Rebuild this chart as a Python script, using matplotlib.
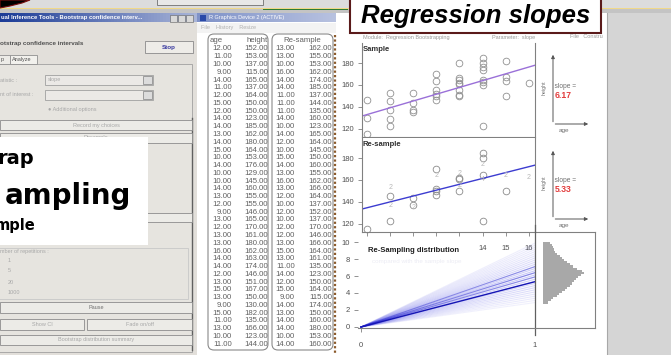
import numpy as np
import matplotlib
matplotlib.use('Agg')
import matplotlib.pyplot as plt
from matplotlib.patches import Rectangle, FancyBboxPatch, Polygon
from matplotlib.colors import LinearSegmentedColormap

plt.rcParams['font.family'] = ['Liberation Sans', 'DejaVu Sans']

W, H = 671, 355

### data
sample_age = [12, 11, 10, 9, 14, 11, 12, 15, 12, 14, 14, 13, 14, 15, 10, 14, 10, 10, 14, 13,
              12, 9, 13, 12, 13, 13, 16, 14, 14, 12, 13, 15, 13, 9, 15, 11, 13, 10, 11]
sample_height = [152, 153, 137, 115, 165, 137, 164, 150, 150, 123, 185, 162, 180, 164, 153, 176, 129, 145, 160, 155,
                 155, 146, 165, 170, 161, 180, 162, 163, 174, 146, 151, 167, 150, 130, 182, 135, 166, 123, 144]
resample_age = [13, 13, 10, 16, 14, 14, 11, 11, 11, 14, 10, 14, 12, 10, 15, 14, 13, 16, 13, 12,
                10, 12, 10, 12, 12, 13, 15, 13, 11, 14, 12, 15, 9, 14, 13, 14, 14, 10, 14]
resample_height = [162, 155, 153, 162, 174, 185, 137, 144, 135, 160, 123, 165, 164, 145, 150, 160, 155, 162, 166, 164,
                   137, 152, 137, 170, 146, 166, 164, 161, 135, 123, 150, 164, 115, 174, 150, 160, 180, 153, 160]

sample_slope = 6.17
sample_intercept = 77.6
resample_slope = 5.33
resample_intercept = 86.8

age_ticks = [9, 10, 11, 12, 13, 14, 15, 16]
# labels 9..13 sit under the white caption box, only 14-16 show
age_ticklabels = ['', '', '', '', '', '14', '15', '16']
height_ticks = [120, 140, 160, 180]
dist_ticks = [0, 2, 4, 6, 8, 10]

# bootstrap slope histogram (bin centres, bar lengths)
slope_bins = [2.875, 3.125, 3.375, 3.625, 3.875, 4.125, 4.375, 4.625, 4.875, 5.125,
              5.375, 5.625, 5.875, 6.125, 6.375, 6.625, 6.875, 7.125, 7.375, 7.625,
              7.875, 8.125, 8.375, 8.625, 8.875, 9.125, 9.375, 9.625, 9.875]
slope_counts = [5, 8, 10, 14, 16, 19, 22, 24, 27, 29,
                31, 33, 35, 38, 41, 39, 34, 30, 27, 24,
                21, 19, 17, 14, 12, 11, 10, 9, 7]
recent_slopes = [7.1, 6.4, 5.9]


def frac(x0, y0, x1, y1):
  """ pixel box (top-left origin) -> figure fraction """
  return [x0 / W, 1 - y1 / H, (x1 - x0) / W, (y1 - y0) / H]


fig = plt.figure(figsize=(W / 100, H / 100), dpi=100)
ui = fig.add_axes([0, 0, 1, 1])
ui.axis('off')


def rect(x, y, w, h, fc, ec='none', lw=0.6, z=1):
  ui.add_patch(Rectangle((x, y), w, h, facecolor=fc, edgecolor=ec, linewidth=lw, zorder=z))


def label(x, y, s, size=4, color='#a8a8a8', **kw):
  ui.text(x, y, s, fontsize=size, color=color, va='center', zorder=3, **kw)


def button(x, y, w, h, s, color='#a8a8a8'):
  rect(x, y, w, h, '#ecebe7', ec='#8c8c8c', lw=0.6, z=2)
  label(x + w / 2, y + h / 2, s, color=color, ha='center')


def titlebar(x0, x1, c0, c1):
  cmap = LinearSegmentedColormap.from_list('tb', [c0, c1])
  ui.imshow(np.linspace(0, 1, 64).reshape(1, -1), cmap=cmap, extent=(x0, x1, 22.5, 13.5),
            aspect='auto', zorder=2)


### background strip on top
rect(0, 0, W, 8, '#dcdcdc')
rect(157, -2, 106, 7, '#e8e8e8', ec='#707070', lw=0.6)
rect(0, 7.5, W, 1.6, '#f0d888')
rect(0, 9, W, 4.5, '#c4c4c4')
rect(263, 9, 85, 1.2, '#2e7d32')
ui.add_patch(Polygon([(0, 0), (30, 0), (22, 3), (10, 6), (0, 8)], closed=True,
                     facecolor='black', edgecolor='#7a1010', lw=0.8, zorder=2))

### left window (bootstrap dialog)
rect(0, 13, 197, 342, '#e2dfda')
titlebar(0, 197, '#1c3c96', '#a8b4d8')
ui.text(1, 18, 'ual Inference Tools - Bootstrap confidence interv...', fontsize=4.2,
        color='white', fontweight='bold', va='center', zorder=3)
for bx in [170, 178, 186]:
  rect(bx, 15, 7, 6.5, '#d8d8d8', ec='#606060', lw=0.4, z=3)
label(0, 44, 'otstrap confidence intervals', size=4.5, color='#505050', fontweight='bold')
rect(145, 41, 48, 12, '#eeece8', ec='#8a8a8a', z=2)
label(169, 47, 'Stop', size=4.5, color='#3a3aa0', fontweight='bold', ha='center')
rect(-2, 64, 194, 288, '#e6e4df', ec='#a0a0a0', z=1)
rect(-2, 55, 12, 9, '#ecebe7', ec='#909090', z=2)
rect(10, 55, 27, 9, '#f2f1ed', ec='#909090', z=2)
label(1, 59.5, 'p', color='#505050')
label(12, 59.5, 'Analyze', color='#505050')
ui.plot([192, 192], [118, 350], color='#606060', lw=1, zorder=2)
label(0, 80, 'atistic :')
rect(45, 75, 108, 10, '#ebe9e6', ec='#a0a0a0', z=2)
label(48, 80, 'slope')
rect(143, 76, 9, 8, '#dcdcdc', ec='#909090', z=3)
label(0, 95, 'nt of interest :')
rect(45, 90, 108, 10, '#ebe9e6', ec='#a0a0a0', z=2)
rect(143, 91, 9, 8, '#dcdcdc', ec='#909090', z=3)
label(48, 110, '\u25cf Additional options')
button(0, 120, 192, 10, 'Record my choices')
button(0, 133, 192, 10, 'Resample')
button(0, 213, 192, 9, 'Resample')
label(0, 252, 'mber of repetitions :')
rect(-2, 248, 190, 51, 'none', ec='#c8c8c8', z=2)
for ry, rs in zip([260, 271, 282, 293], ['1', '5', '20', '1000']):
  label(8, ry, rs)
button(0, 302, 192, 11, 'Pause', color='#707070')
button(0, 319, 84, 11, 'Show CI')
button(87, 319, 105, 11, 'Fade on/off')
button(0, 335, 192, 10, 'Bootstrap distribution summary')

# white caption box over the dialog
rect(0, 137, 148, 108, 'white', z=6)
ui.text(34, 164, 'rap', fontsize=14, fontweight='bold', family='DejaVu Sans',
        ha='right', va='baseline', zorder=7)
ui.text(131, 204, 'ampling', fontsize=20, fontweight='bold', family='DejaVu Sans',
        ha='right', va='baseline', zorder=7)
ui.text(36, 230, 'mple', fontsize=10.5, fontweight='bold', family='DejaVu Sans',
        ha='right', va='baseline', zorder=7)

### data table window
rect(197, 13, 139, 342, 'white')
titlebar(197, 336, '#7f92c8', '#b8c2e0')
rect(200, 15, 6, 6, '#2848a8', z=3)
label(209, 18, 'R Graphics Device 2 (ACTIVE)', size=4, color='white')
rect(197, 22.5, 139, 10, '#f3f3f3')
label(201, 28, 'File    History    Resize', size=4, color='#b0b0b0')
for bx0, bx1 in [(208, 268), (272, 333)]:
  ui.add_patch(FancyBboxPatch((bx0, 34), bx1 - bx0, 316, boxstyle='round,pad=0,rounding_size=6',
                              facecolor='white', edgecolor='#8a8a8a', lw=0.8, zorder=2))
tcol = '#606060'
tsize = 5.6
ui.text(210, 40, 'age', fontsize=tsize, color=tcol, va='center', zorder=3)
ui.text(268, 40, 'height', fontsize=tsize, color=tcol, va='center', ha='right', zorder=3)
ui.text(302, 40, 'Re-sample', fontsize=tsize, color=tcol, va='center', ha='center', zorder=3)
for i in range(len(sample_age)):
  ry = 49 + i * 7.77
  ui.text(232, ry, '%.2f' % sample_age[i], fontsize=tsize, color=tcol, va='center', ha='right', zorder=3)
  ui.text(268, ry, '%.2f' % sample_height[i], fontsize=tsize, color=tcol, va='center', ha='right', zorder=3)
  ui.text(295, ry, '%.2f' % resample_age[i], fontsize=tsize, color=tcol, va='center', ha='right', zorder=3)
  ui.text(332, ry, '%.2f' % resample_height[i], fontsize=tsize, color=tcol, va='center', ha='right', zorder=3)

### plot window
rect(336, 13, 271, 342, 'white')
ui.plot([334.5, 334.5], [35, 355], color='#8b5a2b', lw=1.6, ls=(0, (1, 1)), zorder=3)
label(363, 37, 'Module:  Regression Bootstrapping', size=4, color='#9a9a9a')
label(492, 37, 'Parameter:  slope', size=4, color='#9a9a9a')
label(570, 37, 'File   Constru', size=4, color='#9a9a9a')
rect(607, 13, 64, 342, '#d5d5d5')
ui.plot([606.5, 606.5], [13, 355], color='#a8a8a8', lw=0.8, zorder=2)

# little slope diagrams at the right
for top, base, val in [(52, 124, sample_slope), (148, 219, resample_slope)]:
  ui.annotate('', xy=(553, top), xytext=(553, base + 0.5),
              arrowprops=dict(arrowstyle='-|>', color='#555555', lw=0.7, mutation_scale=5), zorder=3)
  ui.annotate('', xy=(591, base), xytext=(552.5, base),
              arrowprops=dict(arrowstyle='-|>', color='#555555', lw=0.7, mutation_scale=5), zorder=3)
  label(564, base + 6.5, 'age', size=4.6, color='#707070', ha='center')
  label(544, base - 36, 'height', size=3.8, color='#707070', rotation=90, ha='center')
  label(547, base - 38, '    slope =', size=4.8, color='#707070')
  label(555, base - 29, '%.2f' % val, size=6.2, color='#e23b3b', fontweight='bold')

# title box
rect(350, -3, 251, 36, 'white', ec='#5a1a1a', lw=1.5, z=10)
ui.text(475.5, 16.5, 'Regression slopes', fontsize=18.5, fontweight='bold', style='italic',
        ha='center', va='center', zorder=11)

ui.set_xlim(0, W)
ui.set_ylim(H, 0)

### scatter panels
gray = '#808080'


def setup_panel(ax, name, show_xlabels):
  ax.set_xlim(8.78, 16.27)
  ax.set_ylim(112.7, 198.2)
  ax.patch.set_facecolor('white')
  ax.spines['top'].set_visible(False)
  for s in ['left', 'right', 'bottom']:
    ax.spines[s].set_color(gray)
    ax.spines[s].set_linewidth(0.8)
  ax.set_xticks(age_ticks)
  ax.set_xticklabels(age_ticklabels)
  ax.set_yticks(height_ticks)
  ax.tick_params(axis='both', length=3, width=0.6, color=gray, labelsize=5.5, labelcolor='#505050')
  ax.tick_params(axis='y', pad=3)
  ax.tick_params(axis='x', pad=6, labelbottom=show_xlabels)
  ax.text(0.005, 0.97, name, transform=ax.transAxes, fontsize=5.5, fontweight='bold',
          color='#303030', va='top')


ax1 = fig.add_axes(frac(362, 43, 535, 137))
setup_panel(ax1, 'Sample', False)
ax1.plot(sample_age, sample_height, 'o', mfc='none', mec='#909090', ms=4.8, mew=0.6, clip_on=False)
xs = np.array(ax1.get_xlim())
ax1.plot(xs, sample_intercept + sample_slope * xs, color='#9a70d8', lw=1)

ax2 = fig.add_axes(frac(362, 138, 535, 232))
setup_panel(ax2, 'Re-sample', True)
counts = {}
for a, h in zip(resample_age, resample_height):
  counts[(a, h)] = counts.get((a, h), 0) + 1
for (a, h), n in counts.items():
  if n == 1:
    ax2.plot(a, h, 'o', mfc='none', mec='#8a8a8a', ms=4.8, mew=0.6, clip_on=False)
  else:
    ax2.text(a, h, str(n), fontsize=5, color='#b8b8b8', ha='center', va='center')
ax2.plot(xs, resample_intercept + resample_slope * xs, color='#3c3cd0', lw=1)

### re-sampling distribution
ax3 = fig.add_axes(frac(358, 232, 595, 328))
ax3.patch.set_visible(False)
ax3.set_xlim(-0.0172, 1.345)
ax3.set_ylim(-0.12, 11.18)
ax3.spines['top'].set_visible(False)
ax3.spines['left'].set_visible(False)
for s in ['right', 'bottom']:
  ax3.spines[s].set_color(gray)
  ax3.spines[s].set_linewidth(0.8)
ax3.set_xticks([0, 1])
ax3.set_yticks(dist_ticks)
ax3.tick_params(axis='both', length=3, width=0.6, color=gray, labelsize=5.5, labelcolor='#505050')
ax3.tick_params(axis='x', pad=7)
ax3.tick_params(axis='y', pad=3)
cmax = max(slope_counts)
for s, c in zip(slope_bins, slope_counts):
  ax3.plot([0, 1], [0, s], color='#2a2ae0', alpha=0.04 + 0.22 * c / cmax, lw=0.8)
for s in recent_slopes:
  ax3.plot([0, 1], [0, s], color='#3030d0', alpha=0.45, lw=0.8)
ax3.plot([0, 1], [0, resample_slope], color='#1515b5', lw=1)
ax3.barh(slope_bins, np.array(slope_counts) / 174.0, height=0.25, left=1.046, color='#a8a8a8')
ax3.plot([1, 1.345], [11.18, 11.18], color=gray, lw=0.8, clip_on=False)
ax3.plot([1, 1], [-1, 12], color='#606060', lw=0.9, clip_on=False)

# white label box
ax3.add_patch(Rectangle((362, 238), 108, 29, facecolor='white', edgecolor='none',
                        transform=ui.transData, clip_on=False, zorder=5))
ax3.text(368, 251, 'Re-Sampling distribution', transform=ui.transData, fontsize=5.5,
         fontweight='bold', color='#202020', va='center', zorder=6)
ax3.text(372, 262, 'compared with the sample slope', transform=ui.transData, fontsize=4.5,
         color='#ececf4', va='center', zorder=6)

plt.savefig('out.png', dpi=100)
